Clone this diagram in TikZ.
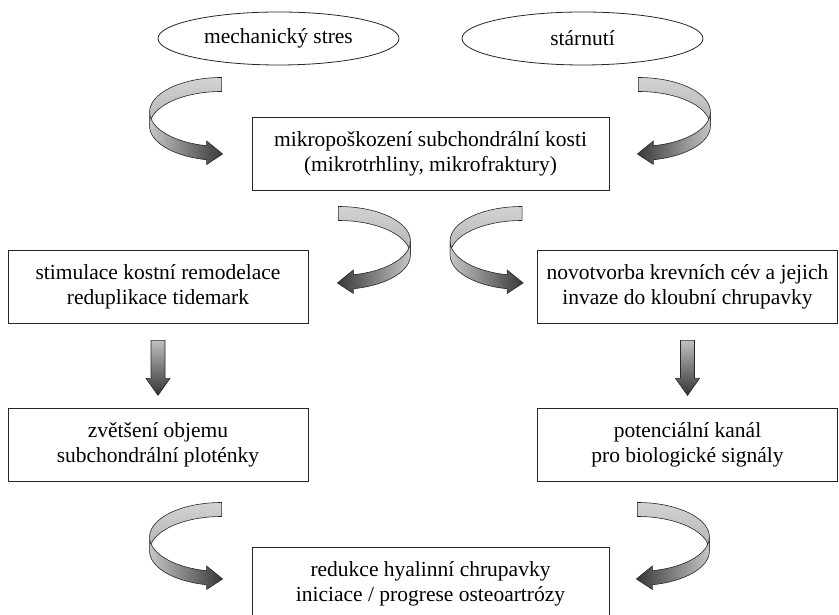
\documentclass[tikz,border=0pt]{standalone}
\usepackage{fontspec}
\setmainfont{Liberation Serif}
\usepackage{tikz}
\usetikzlibrary{shapes.geometric, positioning, calc}

\tikzstyle{cause}  = [ellipse, draw=black!85, line width=0.8pt, minimum width=241pt, minimum height=53pt, inner sep=0pt, font=\fontsize{21.5}{25}\selectfont]
\tikzstyle{effect} = [rectangle, draw=black!85, line width=0.8pt, minimum height=73pt, align=center, inner sep=0pt, font=\fontsize{21.5}{25}\selectfont]
\tikzstyle{wide}   = [effect, minimum width=357pt]
\tikzstyle{side}   = [effect, minimum width=300pt]

\tikzset{
  twist front/.style={left color=gray!45, right color=black!78},
  mirrored/.style={xscale=-1, twist front/.style={left color=black!78, right color=gray!45}},
  % curled ribbon arrow, tip at the origin, pointing right
  twist/.pic={
    \shade[top color=gray!35, bottom color=gray!60, draw=black!85, line width=0.6pt]
      plot[domain=90:180, samples=30] ({72*cos(\x)}, {41.5+34.5*sin(\x)})
      -- plot[domain=180:90, samples=30] ({72*cos(\x)}, {27.5+34.5*sin(\x)}) -- cycle;
    \shade[twist front, draw=black!85, line width=0.6pt]
      plot[domain=180:258, samples=30] ({72*cos(\x)}, {41.5+34.5*sin(\x)})
      -- (-15,12.5) -- (1,-0.5) -- (-15,-11)
      -- plot[domain=258:180, samples=30] ({72*cos(\x)}, {27.5+34.5*sin(\x)}) -- cycle;
  },
  % straight block arrow, centred on the origin
  blockdown/.pic={
    \shade[top color=gray!50, bottom color=black!80, draw=black!85, line width=0.6pt]
      (-7,27.5) -- (7,27.5) -- (7,-10.5) -- (12,-10.5) -- (0,-27.5)
      -- (-12,-10.5) -- (-7,-10.5) -- cycle;
  }
}

\begin{document}
\begin{tikzpicture}[x=1pt, y=1pt]
  \useasboundingbox (0,0) rectangle (839,615);

  \node[cause] (mech) at (278.5,576.5) {mechanický stres};
  \node[cause] (age)  at (582.5,576.5) {stárnutí};
  \node[wide]  (micro) at (430.5,461.5) {mikropoškození subchondrální kosti\\(mikrotrhliny, mikrofraktury)};
  \node[side]  (remod) at (158,328.5) {stimulace kostní remodelace\\reduplikace tidemark};
  \node[side]  (vessel) at (687.5,328.5) {novotvorba krevních cév a jejich\\invaze do kloubní chrupavky};
  \node[side, below=85pt of remod]  (plate) {zvětšení objemu\\subchondrální ploténky};
  \node[side, below=85pt of vessel] (canal) {potenciální kanál\\pro biologické signály};
  \node[wide]  (carti) at (430.5,31.5) {redukce hyalinní chrupavky\\iniciace / progrese osteoartrózy};

  % curled arrows
  \pic at ($(micro.west)+(-30,0)$) {twist};
  \pic[mirrored] at ($(micro.east)+(29,0)$) {twist};
  \pic[mirrored] at ($(remod.east)+(30,4)$) {twist};
  \pic at ($(vessel.west)+(-15,4)$) {twist};
  \pic at ($(carti.west)+(-30,5)$) {twist};
  \pic[mirrored] at ($(carti.east)+(28,5)$) {twist};

  % straight arrows
  \pic at ($(remod.south)!0.5!(plate.north)+(0,-2)$) {blockdown};
  \pic at ($(vessel.south)!0.5!(canal.north)+(0,-2)$) {blockdown};
\end{tikzpicture}
\end{document}
